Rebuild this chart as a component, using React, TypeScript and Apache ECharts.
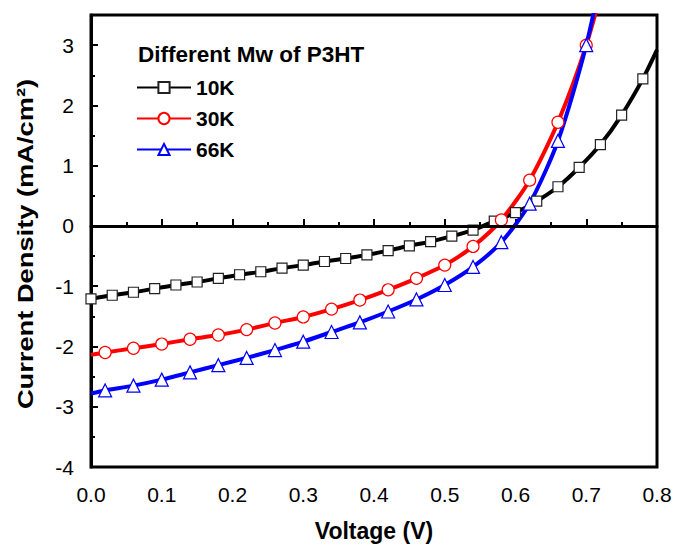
import React, { useEffect, useRef } from "react";
import * as echarts from "echarts";

const seriesNames = ["10K", "30K", "66K"];

const voltage10K = [
  0, 0.03, 0.06, 0.09, 0.12, 0.15, 0.18, 0.21, 0.24, 0.27, 0.3, 0.33, 0.36, 0.39,
  0.42, 0.45, 0.48, 0.51, 0.54, 0.57, 0.6, 0.63, 0.66, 0.69, 0.72, 0.75, 0.78, 0.8,
];
const current10K = [
  -1.21, -1.15, -1.1, -1.04, -0.98, -0.93, -0.87, -0.81, -0.76, -0.7, -0.65, -0.59,
  -0.54, -0.48, -0.41, -0.33, -0.26, -0.17, -0.07, 0.08, 0.22, 0.41, 0.65, 0.97,
  1.35, 1.84, 2.44, 2.92,
];
const noMarker10K = [27];

const voltage30K = [
  0, 0.02, 0.06, 0.1, 0.14, 0.18, 0.22, 0.26, 0.3, 0.34, 0.38, 0.42, 0.46, 0.5,
  0.54, 0.58, 0.62, 0.66, 0.7, 0.74,
];
const current30K = [
  -2.14, -2.1, -2.03, -1.96, -1.88, -1.81, -1.72, -1.61, -1.51, -1.38, -1.23,
  -1.06, -0.87, -0.65, -0.34, 0.1, 0.76, 1.72, 3.0, 4.7,
];
const noMarker30K = [0, 19];

const voltage66K = [
  0, 0.02, 0.06, 0.1, 0.14, 0.18, 0.22, 0.26, 0.3, 0.34, 0.38, 0.42, 0.46, 0.5,
  0.54, 0.58, 0.62, 0.66, 0.7, 0.74,
];
const current66K = [
  -2.78, -2.73, -2.65, -2.55, -2.43, -2.31, -2.19, -2.06, -1.92, -1.76, -1.6,
  -1.42, -1.22, -0.98, -0.68, -0.27, 0.37, 1.41, 3.0, 5.2,
];
const noMarker66K = [0, 19];

const legendTitle = "Different Mw of P3HT";
const xAxisTitle = "Voltage (V)";
const yAxisTitle = "Current Density (mA/cm²)";

const FONT = "'Liberation Sans', Arial, sans-serif";

function buildData(xs: number[], ys: number[], noMarker: number[]) {
  return xs.map((x, i) =>
    noMarker.includes(i) ? { value: [x, ys[i]], symbol: "none" } : { value: [x, ys[i]] }
  );
}

export default function App() {
  const ref = useRef<HTMLDivElement>(null);

  useEffect(() => {
    if (!ref.current) return;
    const chart = echarts.init(ref.current, null, { renderer: "svg" });

    const mkSeries = (
      name: string,
      data: any[],
      color: string,
      symbol: string,
      size: number,
      border: string,
      extra: any = {}
    ) => ({
      name,
      type: "line",
      data,
      smooth: 0.25,
      clip: true,
      symbol,
      symbolSize: size,
      showAllSymbol: true,
      lineStyle: { color, width: 4 },
      itemStyle: { color: "#ffffff", borderColor: border, borderWidth: 1.2 },
      emphasis: { disabled: true },
      ...extra,
    });

    chart.setOption({
      animation: false,
      title: {
        text: legendTitle,
        left: 138,
        top: 43,
        padding: 0,
        textStyle: { fontFamily: FONT, fontSize: 22.5, fontWeight: "bold", color: "#000" },
      },
      legend: {
        orient: "vertical",
        left: 136,
        top: 77,
        padding: 0,
        itemWidth: 54,
        itemHeight: 14,
        itemGap: 10,
        data: seriesNames,
        textStyle: { fontFamily: FONT, fontSize: 21, fontWeight: "bold", color: "#000" },
      },
      grid: { left: 91, right: 19, top: 15, bottom: 74, show: true, borderColor: "#000", borderWidth: 3 },
      xAxis: {
        type: "value",
        min: 0,
        max: 0.8,
        interval: 0.1,
        name: xAxisTitle,
        nameLocation: "middle",
        nameGap: 52,
        nameTextStyle: { fontFamily: FONT, fontSize: 23, fontWeight: "bold", color: "#000" },
        axisLine: { show: true, lineStyle: { color: "#000", width: 3 } },
        axisTick: { show: true, inside: true, length: 7, lineStyle: { color: "#000", width: 2 } },
        minorTick: { show: true, splitNumber: 2, length: 4, lineStyle: { color: "#000", width: 2 } },
        splitLine: { show: false },
        axisLabel: {
          margin: 17,
          fontFamily: FONT,
          fontSize: 21,
          color: "#000",
          formatter: (v: number) => v.toFixed(1),
        },
      },
      yAxis: {
        type: "value",
        min: -4,
        max: 3.5,
        interval: 1,
        axisLine: { show: true, lineStyle: { color: "#000", width: 3 } },
        axisTick: { show: true, inside: true, length: 7, lineStyle: { color: "#000", width: 2 } },
        minorTick: { show: true, splitNumber: 2, length: 4, lineStyle: { color: "#000", width: 2 } },
        splitLine: { show: false },
        axisLabel: {
          margin: 17,
          fontFamily: FONT,
          fontSize: 21,
          color: "#000",
          showMaxLabel: false,
        },
      },
      graphic: [
        {
          type: "text",
          x: 25,
          y: 244,
          rotation: Math.PI / 2,
          scaleX: 1.24,
          style: {
            text: yAxisTitle,
            fontFamily: FONT,
            fontSize: 22,
            fontWeight: "bold",
            fill: "#000",
            textAlign: "center",
            textVerticalAlign: "middle",
          },
        },
      ],
      series: [
        mkSeries(seriesNames[0], buildData(voltage10K, current10K, noMarker10K), "#000000", "rect", 10, "#222222", {
          markLine: {
            silent: true,
            symbol: ["none", "none"],
            label: { show: false },
            lineStyle: { color: "#000", width: 3, type: "solid" },
            data: [{ yAxis: 0 }],
          },
        }),
        mkSeries(seriesNames[1], buildData(voltage30K, current30K, noMarker30K), "#ff0000", "circle", 12, "#ff0000"),
        mkSeries(seriesNames[2], buildData(voltage66K, current66K, noMarker66K), "#0000ff", "triangle", 13, "#0000ff"),
      ],
    });

    return () => chart.dispose();
  }, []);

  return (
    <div
      ref={ref}
      style={{ position: "fixed", left: 0, top: 0, width: 676, height: 547, background: "#fff" }}
    />
  );
}
